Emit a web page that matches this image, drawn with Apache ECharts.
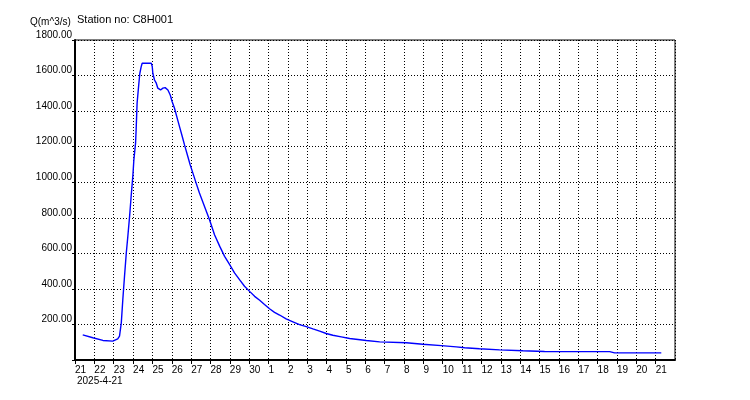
<!DOCTYPE html>
<html>
<head>
<meta charset="utf-8">
<script src="https://cdn.jsdelivr.net/npm/echarts@6/dist/echarts.min.js"></script>
<style>html,body{margin:0;padding:0;background:#fff}#c{width:750px;height:400px}</style>
</head>
<body>
<div id="c"></div>
<script>
// Hours elapsed since 2025-04-21 00:00
var hoursSinceStart = [
  9.6, 22.1, 34.6, 46.8, 53.0, 55.2, 57.4, 59.3, 61.4, 63.6,
  65.5, 67.7, 69.6, 71.8, 73.0, 75.1, 75.8, 77.0, 79.2, 80.4,
  82.1, 83.3, 94.6, 95.8, 96.5, 98.6, 100.8, 102.7, 106.1, 109.0,
  111.8, 115.2, 118.1, 120.5, 123.4, 126.2, 129.6, 133.0, 135.8, 139.9,
  142.8, 146.2, 150.2, 154.3, 160.6, 166.8, 173.0, 179.5, 185.5, 191.8,
  197.8, 204.0, 210.2, 216.5, 222.7, 229.0, 235.0, 241.2, 247.4, 253.7,
  261.8, 270.2, 278.4, 286.8, 295.0, 303.4, 311.5, 319.7, 330.2, 340.6,
  361.2, 377.8, 410.9, 431.3, 454.3, 472.8, 483.1, 501.6, 526.6, 555.4,
  582.2, 663.0, 665.0, 669.1, 727.0
];
// Discharge Q (m^3/s)
var flowValues = [
  141, 125, 110, 106, 119, 134, 209, 340, 471, 602,
  695, 808, 920, 1040, 1126, 1220, 1294, 1444, 1557, 1613,
  1650, 1669, 1669, 1650, 1613, 1575, 1557, 1529, 1519, 1529,
  1532, 1519, 1491, 1453, 1416, 1369, 1313, 1257, 1210, 1145,
  1098, 1051, 995, 939, 864, 789, 705, 639, 583, 536,
  490, 452, 415, 386, 358, 336, 312, 288, 268, 253,
  231, 215, 199, 188, 175, 162, 149, 139, 130, 121,
  110, 102, 97, 89, 81, 74, 69, 63, 57, 52,
  48, 47, 44, 40, 40
];
var startDate = [2025, 4, 21];
var yTicks = [0, 200, 400, 600, 800, 1000, 1200, 1400, 1600, 1800];
var titleText = 'Station no: C8H001';
var yUnitText = 'Q(m^3/s)';
var startLabel = '2025-4-21';

var pts = [];
var n = Math.min(hoursSinceStart.length, flowValues.length);
for (var i = 0; i < n; i++) pts.push([hoursSinceStart[i], flowValues[i]]);

var FONT = 'Liberation Sans, Arial, sans-serif';
var chart = echarts.init(document.getElementById('c'), null, {renderer: 'canvas'});
chart.setOption({
  animation: false,
  backgroundColor: '#fff',
  grid: {left: 75, top: 40, right: 75, bottom: 40, show: true, borderColor: '#000', borderWidth: 1},
  graphic: [
    {type: 'text', left: 77, top: 14, style: {text: titleText, font: '11px ' + FONT, fill: '#000'}},
    {type: 'text', left: 30, top: 17, style: {text: yUnitText, font: '10px ' + FONT, fill: '#000'}},
    {type: 'text', left: 77, top: 376, style: {text: startLabel, font: '10px ' + FONT, fill: '#000'}}
  ],
  xAxis: {
    type: 'value', min: 0, max: 744, interval: 24,
    axisLine: {show: true, onZero: false, lineStyle: {color: '#000', width: 2}},
    axisTick: {show: true, length: 4, lineStyle: {color: '#000', width: 1}},
    axisLabel: {
      fontFamily: FONT, fontSize: 10, color: '#000', align: 'left', margin: 5,
      showMaxLabel: false,
      formatter: function (v) {
        if (v >= 744) return '';
        var d = new Date(startDate[0], startDate[1] - 1, startDate[2]);
        d.setHours(d.getHours() + v);
        return String(d.getDate());
      }
    },
    splitLine: {show: true, lineStyle: {color: '#000', width: 1, type: [1, 2]}}
  },
  yAxis: {
    type: 'value', min: yTicks[0], max: yTicks[yTicks.length - 1], interval: yTicks[1] - yTicks[0],
    axisLine: {show: true, onZero: false, lineStyle: {color: '#000', width: 2}},
    axisTick: {show: true, length: 3, lineStyle: {color: '#000', width: 1}},
    axisLabel: {
      fontFamily: FONT, fontSize: 10, color: '#000', margin: 3, verticalAlign: 'bottom',
      formatter: function (v) { return v === 0 ? '' : v.toFixed(2); }
    },
    splitLine: {show: true, lineStyle: {color: '#000', width: 1, type: [1, 2]}}
  },
  series: [{
    type: 'line', data: pts, showSymbol: false, symbol: 'none',
    lineStyle: {color: '#0000ff', width: 1.4}, itemStyle: {color: '#0000ff'}
  }]
});
</script>
</body>
</html>
